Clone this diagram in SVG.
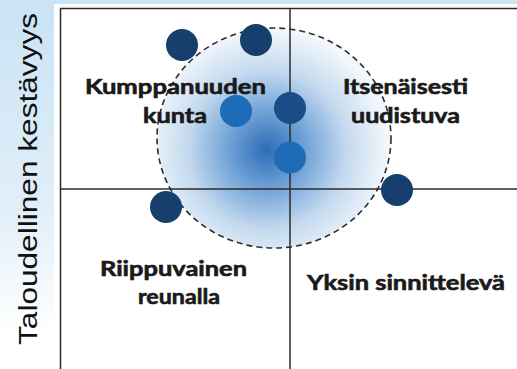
<svg xmlns="http://www.w3.org/2000/svg" width="517" height="369" viewBox="0 0 517 369">
  <defs>
    <linearGradient id="bg" x1="0" y1="0" x2="0" y2="1">
      <stop offset="0" stop-color="#cae3f5"/>
      <stop offset="0.55" stop-color="#e0eef9"/>
      <stop offset="0.9" stop-color="#ffffff"/>
    </linearGradient>
    <radialGradient id="glow" gradientUnits="userSpaceOnUse" cx="267" cy="150" r="122" fx="267" fy="150">
      <stop offset="0" stop-color="#2c6cb7"/>
      <stop offset="0.3" stop-color="#6c9fd5"/>
      <stop offset="0.65" stop-color="#c3d9ef"/>
      <stop offset="1" stop-color="#f4f8fc"/>
    </radialGradient>
    <style>
      .axis { stroke: #2b2b2b; stroke-width: 1.5; fill: none; }
      .ring { stroke: #2e2e2e; stroke-width: 1.6; stroke-dasharray: 6 4; fill: url(#glow); }
      .navy { fill: #163f6e; }
      .mid { fill: #1d4d86; }
      .bright { fill: #1e6bb8; }
      .lbl { font-family: Lato, "Open Sans", "DejaVu Sans", sans-serif; font-weight: 700; font-size: 20px; fill: #1a1a1a; stroke: #1a1a1a; stroke-width: 0.6; text-anchor: start; }
      .ytitle { font-family: "Liberation Sans", Arial, sans-serif; font-size: 26px; fill: #111; }
    </style>
  </defs>

  <rect x="0" y="0" width="517" height="369" fill="url(#bg)"/>
  <rect x="54" y="4" width="463" height="365" fill="#ffffff"/>

  <g id="halo">
    <ellipse class="ring" cx="274" cy="138" rx="117" ry="110"/>
  </g>

  <g id="connectors">
    <line class="axis" x1="60" y1="8.5" x2="517" y2="8.5"/>
    <line class="axis" x1="60.5" y1="8" x2="60.5" y2="369"/>
    <line class="axis" x1="60" y1="189" x2="517" y2="189"/>
    <line class="axis" x1="290" y1="8" x2="290" y2="369"/>
  </g>

  <g id="q-kumppanuuden">
    <text class="lbl" x="85" y="94" textLength="181" lengthAdjust="spacingAndGlyphs">Kumppanuuden</text>
    <text class="lbl" x="143" y="123" textLength="64" lengthAdjust="spacingAndGlyphs">kunta</text>
  </g>
  <g id="q-itsenaisesti">
    <text class="lbl" x="343" y="94" textLength="125" lengthAdjust="spacingAndGlyphs">Itsenäisesti</text>
    <text class="lbl" x="351" y="123" textLength="109" lengthAdjust="spacingAndGlyphs">uudistuva</text>
  </g>
  <g id="q-riippuvainen">
    <text class="lbl" x="100" y="276" textLength="147" lengthAdjust="spacingAndGlyphs">Riippuvainen</text>
    <text class="lbl" x="138" y="304" textLength="82" lengthAdjust="spacingAndGlyphs">reunalla</text>
  </g>
  <g id="q-yksin">
    <text class="lbl" x="307" y="290" textLength="198" lengthAdjust="spacingAndGlyphs">Yksin sinnittelevä</text>
  </g>

  <g id="dot-1"><circle class="navy" cx="182" cy="45" r="16"/></g>
  <g id="dot-2"><circle class="navy" cx="256" cy="40" r="16"/></g>
  <g id="dot-3"><circle class="bright" cx="236" cy="111" r="16"/></g>
  <g id="dot-4"><circle class="mid" cx="290" cy="108" r="16"/></g>
  <g id="dot-5"><circle class="bright" cx="290" cy="157.5" r="16"/></g>
  <g id="dot-6"><circle class="navy" cx="397" cy="190" r="16"/></g>
  <g id="dot-7"><circle class="navy" cx="166" cy="207" r="16"/></g>

  <g id="axis-title">
    <text class="ytitle" transform="translate(37,345) rotate(-90)" textLength="332" lengthAdjust="spacingAndGlyphs">Taloudellinen kestävyys</text>
  </g>
</svg>
